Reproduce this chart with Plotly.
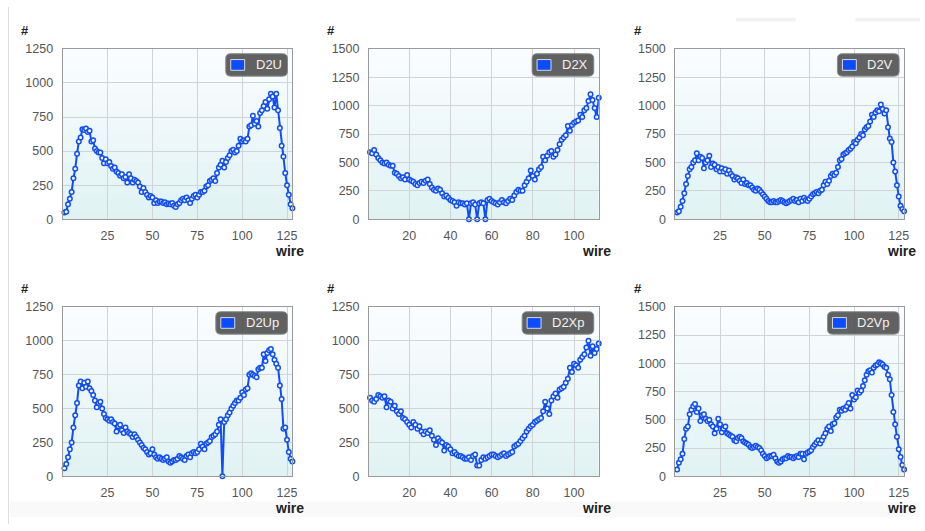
import plotly.graph_objects as go

W, H = 925, 531

names = ["D2U", "D2X", "D2V", "D2Up", "D2Xp", "D2Vp"]

d2u = [50, 55, 110, 150, 200, 300, 370, 480, 570, 600,
       660, 655, 665, 640, 650, 570, 580, 520, 500, 490,
       490, 450, 410, 440, 410, 420, 390, 370, 380, 350,
       340, 320, 330, 300, 310, 270, 330, 300, 270, 290,
       280, 270, 240, 200, 230, 200, 180, 160, 170, 160,
       120, 140, 120, 130, 130, 120, 125, 110, 115, 110,
       120, 100, 90, 110, 120, 140, 150, 140, 160, 140,
       120, 150, 170, 180, 160, 180, 200, 200, 210, 240,
       250, 280, 290, 300, 280, 340, 380, 400, 430, 380,
       420, 450, 470, 500, 510, 490, 500, 540, 590, 570,
       580, 570, 590, 680, 690, 760, 700, 720, 680, 780,
       800, 830, 860, 810, 880, 920, 900, 820, 920, 800,
       670, 540, 460, 340, 250, 180, 110, 80]

d2x = [590, 580, 610, 570, 540, 520, 500, 490, 500, 480,
       470, 470, 410, 400, 380, 360, 370, 350, 390, 350,
       340, 330, 310, 300, 320, 330, 320, 340, 350, 310,
       280, 260, 250, 270, 260, 230, 200, 210, 190, 170,
       160, 150, 120, 150, 140, 140, 130, 140, 0, 140,
       150, 130, 0, 140, 150, 140, 0, 170, 180, 160,
       150, 140, 130, 150, 170, 150, 140, 160, 180, 170,
       210, 240, 260, 250, 250, 300, 330, 360, 430, 380,
       350, 400, 440, 460, 550, 520, 560, 590, 600, 550,
       570, 610, 660, 700, 720, 740, 820, 780, 830, 850,
       860, 870, 920, 900, 960, 980, 1040, 1100, 1050, 980,
       900, 1070]

d2v = [60, 70, 110, 160, 230, 310, 380, 440, 460, 500,
       520, 580, 520, 550, 540, 450, 500, 520, 560, 460,
       490, 480, 440, 460, 420, 450, 420, 440, 400, 430,
       400, 380, 350, 370, 360, 340, 320, 350, 310, 320,
       300, 300, 280, 260, 250, 270, 260, 240, 220, 200,
       180, 160, 150, 150, 160, 150, 150, 160, 170, 160,
       150, 140, 150, 160, 170, 180, 160, 170, 150, 180,
       160, 190, 170, 160, 180, 200, 220, 230, 240, 230,
       250, 260, 300, 330, 310, 340, 380, 400, 390, 410,
       460, 520, 530, 570, 580, 590, 610, 620, 640, 680,
       670, 700, 720, 750, 740, 790, 810, 820, 860, 920,
       900, 940, 960, 950, 1010, 970, 930, 960, 810, 710,
       680, 500, 420, 300, 200, 120, 90, 70]

d2up = [60, 90, 140, 200, 250, 360, 450, 540, 670, 700,
        650, 690, 660, 700, 650, 630, 600, 560, 510, 540,
        550, 500, 460, 430, 420, 410, 420, 400, 390, 330,
        370, 380, 340, 320, 360, 330, 320, 310, 290, 310,
        290, 270, 250, 230, 210, 200, 180, 160, 170, 200,
        160, 140, 130, 140, 130, 120, 130, 140, 110, 100,
        110, 120, 120, 130, 150, 140, 130, 120, 150, 160,
        140, 170, 180, 170, 180, 200, 240, 220, 200, 240,
        250, 260, 290, 300, 310, 330, 380, 420, 0, 400,
        420, 450, 470, 500, 520, 540, 560, 560, 580, 620,
        600, 640, 650, 750, 760, 750, 740, 730, 790, 800,
        800, 900, 850, 910, 930, 940, 900, 860, 830, 800,
        670, 570, 350, 360, 270, 180, 130, 110]

d2xp = [580, 560, 550, 570, 600, 590, 580, 590, 510, 560,
        550, 500, 520, 480, 460, 480, 430, 420, 400, 380,
        360, 400, 380, 350, 370, 330, 310, 330, 320, 340,
        300, 270, 230, 280, 260, 250, 190, 230, 220, 200,
        170, 180, 160, 150, 150, 140, 130, 130, 140, 120,
        150, 160, 80, 80, 120, 140, 130, 140, 150, 160,
        160, 150, 140, 150, 160, 170, 150, 160, 170, 180,
        220, 230, 240, 260, 280, 300, 330, 350, 370, 380,
        400, 410, 420, 430, 480, 550, 500, 460, 560, 590,
        610, 580, 640, 650, 660, 690, 720, 800, 770, 830,
        820, 800, 860, 880, 900, 950, 1000, 890, 960, 910,
        940, 980]

d2vp = [60, 120, 150, 200, 330, 420, 440, 550, 590, 620,
        640, 570, 600, 490, 540, 550, 510, 490, 500, 460,
        440, 380, 420, 510, 460, 390, 420, 440, 380, 370,
        360, 350, 320, 310, 340, 350, 340, 310, 300, 290,
        280, 260, 250, 260, 270, 260, 250, 230, 200, 180,
        160, 170, 180, 180, 190, 160, 130, 120, 130, 150,
        160, 160, 180, 170, 170, 160, 170, 180, 170, 200,
        200, 150, 200, 210, 220, 230, 260, 280, 300, 320,
        290, 320, 350, 380, 420, 440, 400, 460, 470, 520,
        540, 590, 580, 600, 590, 620, 650, 600, 720, 680,
        700, 760, 740, 760, 800, 850, 900, 930, 940, 920,
        960, 980, 990, 1010, 1000, 990, 970, 960, 900, 860,
        720, 570, 460, 350, 240, 170, 100, 60]

series = [d2u, d2x, d2v, d2up, d2xp, d2vp]
ymax = [1250, 1500, 1500, 1250, 1250, 1500]
xticks_128 = [25, 50, 75, 100, 125]
xticks_112 = [20, 40, 60, 80, 100]

# plot-area pixel boxes on screen: (left, right), (top, bottom)
cols = [(63, 294), (371, 602), (679, 909)]
rows = [(43, 218), (308, 482)]

BLUE = "#0d4dff"
TICKFONT = dict(family="Liberation Sans, Arial, sans-serif", size=12.5, color="#555555")


def px(x):
    return x / W


def py(y):
    return 1 - y / H


fig = go.Figure()
layout = dict(
    width=W, height=H,
    margin=dict(l=0, r=0, t=0, b=0),
    paper_bgcolor="white",
    plot_bgcolor="rgba(0,0,0,0)",
    showlegend=False,
)
shapes = []
annotations = []

# page decorations
shapes.append(dict(type="line", xref="paper", yref="paper", x0=px(8.5), x1=px(8.5), y0=0, y1=1,
                   line=dict(color="#dcdcdc", width=1)))
for (a, b) in [(740, 800), (860, 925)]:
    shapes.append(dict(type="rect", xref="paper", yref="paper", x0=px(a), x1=px(b), y0=py(15), y1=py(11),
                       line=dict(width=0), fillcolor="rgba(0,0,0,0.05)"))
shapes.append(dict(type="rect", xref="paper", yref="paper", x0=px(10), x1=1, y0=py(524), y1=py(508),
                   line=dict(width=0), fillcolor="rgba(0,0,0,0.025)"))

NB = 24
top_c = (251, 253, 255)
bot_c = (224, 242, 243)

for i, (name, vals) in enumerate(zip(names, series)):
    n = i + 1
    r, c = divmod(i, 3)
    L, R = cols[c]
    T, B = rows[r]
    xa = "xaxis" if n == 1 else f"xaxis{n}"
    ya = "yaxis" if n == 1 else f"yaxis{n}"
    xr = "x" if n == 1 else f"x{n}"
    yr = "y" if n == 1 else f"y{n}"
    nw = len(vals)
    wires = list(range(1, nw + 1))
    if nw == 128:
        xrange = [0, 128]
        xt = xticks_128
    else:
        xrange = [0.5, 112]
        xt = xticks_112
    yt = list(range(0, ymax[i] + 1, 250))

    fig.add_trace(go.Scatter(
        x=wires, y=vals, mode="lines+markers", name=name, xaxis=xr, yaxis=yr,
        line=dict(color=BLUE, width=2),
        marker=dict(size=4.5, color="white", line=dict(color=BLUE, width=1.5)),
        cliponaxis=False, hoverinfo="skip",
    ))

    layout[xa] = dict(domain=[px(L), px(R)], anchor=yr, range=xrange,
                      tickvals=xt, ticktext=[str(v) for v in xt],
                      showgrid=True, gridcolor="#d0d4d6", gridwidth=1,
                      showline=True, mirror=True, linecolor="#9a9a9a", linewidth=1,
                      zeroline=False, ticks="", tickfont=TICKFONT, ticklabelstandoff=5,
                      fixedrange=True)
    layout[ya] = dict(domain=[py(B), py(T)], anchor=xr, range=[0, ymax[i]],
                      tickvals=yt, ticktext=[str(v) for v in yt],
                      showgrid=True, gridcolor="#d0d4d6", gridwidth=1,
                      showline=True, mirror=True, linecolor="#9a9a9a", linewidth=1,
                      zeroline=False, ticks="", tickfont=TICKFONT, ticklabelstandoff=6,
                      fixedrange=True)

    # gradient background
    dref_x = f"{xr} domain"
    dref_y = f"{yr} domain"
    for k in range(NB):
        f = (k + 0.5) / NB  # 0 bottom .. 1 top
        col = tuple(round(bot_c[j] + (top_c[j] - bot_c[j]) * f) for j in range(3))
        shapes.append(dict(type="rect", xref=dref_x, yref=dref_y, x0=0, x1=1,
                           y0=k / NB, y1=min(1, (k + 1) / NB + 0.004), layer="below",
                           line=dict(width=0), fillcolor="rgb(%d,%d,%d)" % col))

    # axis titles
    annotations.append(dict(xref="paper", yref="paper", x=px(L - 38), y=py(T - 19), text="<b>#</b>",
                            showarrow=False, xanchor="center", yanchor="middle",
                            font=dict(family="Liberation Sans, Arial", size=13, color="#222222")))
    annotations.append(dict(xref="paper", yref="paper", x=px(R + 14), y=py(B + 33), text="<b>wire</b>",
                            showarrow=False, xanchor="right", yanchor="middle",
                            font=dict(family="Liberation Sans, Arial", size=14, color="#222222")))

    # legend box
    bw = 32 + 10 * len(name)
    bx1 = R - 5
    bx0 = bx1 - bw
    by0 = T + 5
    by1 = by0 + 23
    rad = 5
    path = (f"M {px(bx0 + rad)},{py(by0)} L {px(bx1 - rad)},{py(by0)} "
            f"Q {px(bx1)},{py(by0)} {px(bx1)},{py(by0 + rad)} "
            f"L {px(bx1)},{py(by1 - rad)} Q {px(bx1)},{py(by1)} {px(bx1 - rad)},{py(by1)} "
            f"L {px(bx0 + rad)},{py(by1)} Q {px(bx0)},{py(by1)} {px(bx0)},{py(by1 - rad)} "
            f"L {px(bx0)},{py(by0 + rad)} Q {px(bx0)},{py(by0)} {px(bx0 + rad)},{py(by0)} Z")
    shapes.append(dict(type="path", xref="paper", yref="paper", path=path, layer="above",
                       fillcolor="rgba(75,75,75,0.88)", line=dict(color="#8a8a8a", width=1)))
    sx0 = bx0 + 5
    shapes.append(dict(type="rect", xref="paper", yref="paper", x0=px(sx0), x1=px(sx0 + 14),
                       y0=py(by0 + 17), y1=py(by0 + 6), layer="above",
                       fillcolor="#0a4cff", line=dict(color="#d8d8d8", width=1)))
    annotations.append(dict(xref="paper", yref="paper", x=px(sx0 + 23), y=py(by0 + 11.5), text=name,
                            showarrow=False, xanchor="left", yanchor="middle",
                            font=dict(family="Liberation Sans, Arial", size=13, color="#f2f2f2")))

layout["shapes"] = shapes
layout["annotations"] = annotations
fig.update_layout(**layout)
fig.write_html("out.html",
               config={"displayModeBar": False},
               post_script="document.body.style.margin='0';document.body.style.overflow='hidden';")
